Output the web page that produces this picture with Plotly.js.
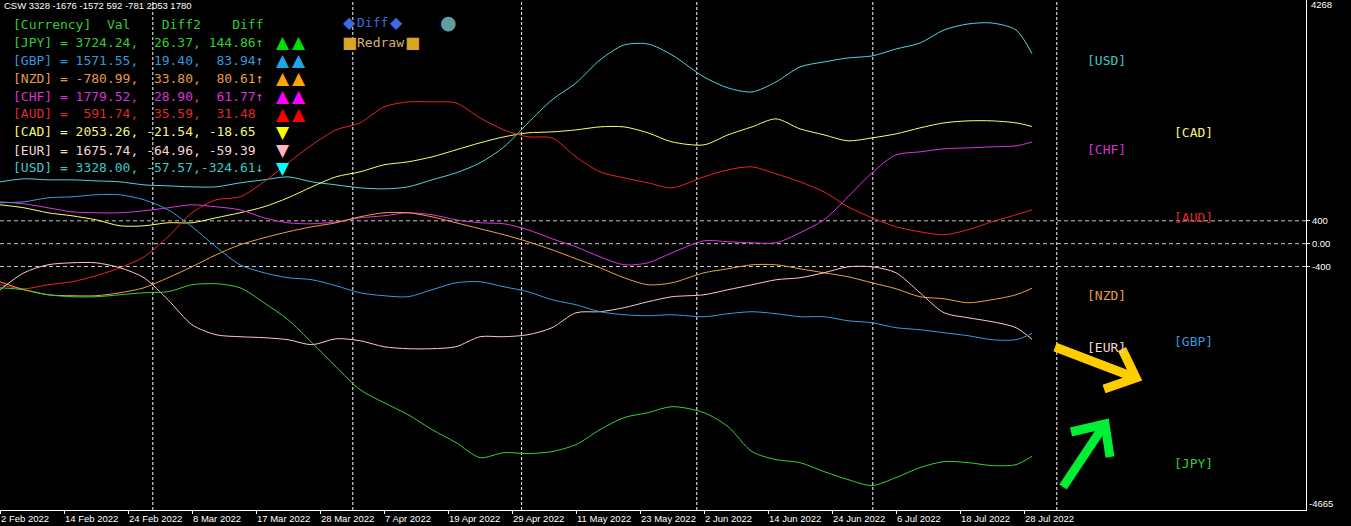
<!DOCTYPE html>
<html>
<head>
<meta charset="utf-8">
<script src="https://cdn.plot.ly/plotly-3.0.1.min.js"></script>
<style>
  html,body{margin:0;padding:0;background:#000;}
  #chart{width:1351px;height:526px;}
</style>
</head>
<body>
<div id="chart"></div>
<script>
// ---- data (bar index = trading day since 2 Feb 2022) ----
const bars = [0,3,6,9,12,15,18,21,24,27,30,33,36,39,42,45,48,51,54,57,60,63,66,69,72,75,78,81,84,
              88,91,94,97,100,103,106,109,112,115,118,121,124,127,129];

const USD = [1083,1136,1118,1118,1100,1083,1030,1013,995,995,1065,1118,1170,1083,1030,978,960,995,1118,1240,1415,1695,2115,2518,2815,3218,3480,3498,3305,
             2920,2728,2658,2833,3096,3183,3253,3288,3410,3515,3743,3848,3865,3743,3328];
const CAD = [681,628,541,488,418,313,313,366,366,453,541,646,803,996,1171,1258,1381,1433,1521,1643,1766,1871,1941,1958,1993,2046,2046,1941,1783,
             1731,1906,2046,2186,2011,1906,1801,1853,1923,2028,2116,2151,2151,2116,2053];
const AUD = [-720,-790,-720,-667,-562,-422,-230,121,541,768,821,1083,1416,1731,1993,2116,2396,2483,2483,2466,2203,1993,1871,1853,1521,1258,1153,1066,978,
             1171,1293,1346,1223,1083,908,646,453,296,208,156,243,383,506,592];
const CHF = [733,698,628,558,541,541,576,628,681,646,593,453,366,348,383,453,488,541,506,418,366,348,243,86,-55,-230,-370,-335,-160,
             51,33,16,16,191,418,821,1241,1556,1608,1661,1678,1696,1713,1780];
const NZD = [-667,-807,-895,-912,-912,-860,-772,-597,-405,-195,-20,103,208,296,366,471,541,541,471,366,261,156,33,-107,-265,-422,-597,-720,-685,
             -510,-440,-370,-370,-440,-510,-580,-685,-790,-930,-965,-1035,-982,-895,-781];
const EUR = [-807,-510,-370,-335,-335,-422,-597,-982,-1420,-1595,-1630,-1647,-1682,-1770,-1665,-1700,-1805,-1840,-1840,-1805,-1630,-1630,-1595,-1472,-1210,-1192,-1122,-1017,-930,
             -895,-807,-720,-632,-597,-510,-405,-405,-510,-860,-1210,-1297,-1367,-1472,-1676];
const GBP = [716,733,803,821,856,856,768,593,296,-55,-370,-510,-597,-632,-737,-860,-912,-930,-807,-685,-667,-755,-842,-982,-1070,-1192,-1245,-1262,-1245,
             -1280,-1227,-1192,-1227,-1280,-1280,-1350,-1385,-1472,-1507,-1560,-1612,-1682,-1682,-1572];
const JPY = [-772,-807,-895,-930,-930,-895,-860,-842,-720,-702,-772,-1035,-1332,-1735,-2155,-2557,-2785,-2995,-3257,-3485,-3747,-3660,-3677,-3642,-3520,-3257,-3047,-2960,-2855,
             -2960,-3205,-3642,-3782,-3835,-3992,-4132,-4237,-4097,-3922,-3817,-3835,-3887,-3870,-3724];

// legend table values
const currencies = ["JPY","GBP","NZD","CHF","AUD","CAD","EUR","USD"];
const vals  = [3724.24,1571.55,-780.99,1779.52,591.74,2053.26,1675.74,3328.00];
const diff2 = [26.37,19.40,33.80,28.90,35.59,-21.54,-64.96,-57.57];
const diff  = [144.86,83.94,80.61,61.77,31.48,-18.65,-59.39,-324.61];
const arrows = ["↑","↑","↑","↑","","","","↓"];
const marks  = ["▲▲","▲▲","▲▲","▲▲","▲▲","▼","▼","▼"];
const headerText = "CSW 3328 -1676 -1572 592 -781 2053 1780";

// x-axis tick labels (every 8 bars)
const tickIdx = [0,8,16,24,32,40,48,56,64,72,80,88,96,104,112,120,128];
const tickLabels = ["2 Feb 2022","14 Feb 2022","24 Feb 2022","8 Mar 2022","17 Mar 2022","28 Mar 2022","7 Apr 2022","19 Apr 2022","29 Apr 2022","11 May 2022","23 May 2022","2 Jun 2022","14 Jun 2022","24 Jun 2022","6 Jul 2022","18 Jul 2022","28 Jul 2022"];
const monthSep = [19.1,44.1,65.2,87.1,109.1,132.1];
const levels = [400,0,-400];
const yMin = -4665, yMax = 4268;

// ---- styling ----
const series = {USD,CAD,AUD,CHF,NZD,EUR,GBP,JPY};
const lineColor = {JPY:'#3ad13a',GBP:'#3a9be0',NZD:'#f0a040',CHF:'#e034e0',AUD:'#ee2222',CAD:'#ffff66',EUR:'#ffc8c8',USD:'#4fd8d8'};
const textColor = {JPY:'#33cc33',GBP:'#3399dd',NZD:'#e89a40',CHF:'#d633d6',AUD:'#dd2a2a',CAD:'#f5f57a',EUR:'#f5d5d5',USD:'#3cc8c8'};
const markColor = {JPY:'#00dd00',GBP:'#1ea7e8',NZD:'#ffa500',CHF:'#ff00ff',AUD:'#ff0000',CAD:'#ffff00',EUR:'#ffb6c1',USD:'#00ffff'};

const W = 1306, H = 510; // plot area in pixels
const MONO = '"DejaVu Sans Mono", monospace';
const SANS = '"Liberation Sans", Arial, sans-serif';
const SYM = '"DejaVu Sans", sans-serif';
const nb = s => s.replace(/ /g, '\u00A0');
const px = x => x / W, py = y => 1 - y / H;

const traces = Object.keys(series).map(k => ({
  x: bars, y: series[k], type: 'scatter', mode: 'lines', name: k,
  line: {color: lineColor[k], width: 1, shape: 'spline', smoothing: 0.8},
  hoverinfo: 'skip'
}));

const annotations = [];
function ann(text, x, y, color, size, font, anchor) {
  annotations.push({text: nb(text), xref: 'paper', yref: 'paper', x: px(x), y: py(y),
    xanchor: anchor || 'left', yanchor: 'middle', showarrow: false,
    font: {family: font || MONO, size: size || 13, color: color}, borderpad: 0});
}
ann(headerText, 3, 6, '#ffffff', 9.5, SANS);
ann('[Currency]  Val    Diff2    Diff', 12, 24, '#33cc33');
currencies.forEach((c, i) => {
  const row = '[' + c + '] = ' + vals[i].toFixed(2).padStart(7) + ', ' +
              diff2[i].toFixed(2).padStart(6) + ',' + diff[i].toFixed(2).padStart(7) + arrows[i];
  const y = 42 + i * 18;
  ann(row, 12, y, textColor[c]);
  [...marks[i]].forEach((m, j) => ann(m, 283 + j * 16, y, markColor[c], 17, SYM, 'center'));
});
// buttons
ann('◆', 349, 23, '#4169e1', 16, SYM, 'center');
ann('Diff', 356, 23, '#4169e1', 13);
ann('◆', 396, 23, '#4169e1', 16, SYM, 'center');
ann('●', 448, 22, '#5f9ea0', 19, SYM, 'center');
ann('■', 349, 42, '#daa520', 16, SYM, 'center');
ann('Redraw', 356, 42, '#d8b070', 13);
ann('■', 412, 42, '#daa520', 16, SYM, 'center');

// right-hand currency labels
const rightLab = [['USD',1086,60],['CHF',1086,149],['CAD',1173,133],['AUD',1173,217],
                  ['NZD',1086,295],['EUR',1086,347],['GBP',1173,341],['JPY',1173,463]];
rightLab.forEach(([c, x, y]) => ann('[' + c + ']', x, y, textColor[c], 13));

// range labels on the price scale
ann(String(yMax), 1310, 5, '#ffffff', 9.5, SANS);
ann(String(yMin), 1308, 503, '#ffffff', 9.5, SANS);

const shapes = [];
levels.forEach(v => shapes.push({type: 'line', xref: 'paper', yref: 'y', x0: 0, x1: 1, y0: v, y1: v,
  line: {color: '#c8c8c8', width: 1, dash: '4px,3px'}, layer: 'below'}));
monthSep.forEach(b => shapes.push({type: 'line', xref: 'x', yref: 'paper', x0: b, x1: b, y0: 0, y1: 1,
  line: {color: '#ffffff', width: 1, dash: '3px,2px'}, layer: 'below'}));

function P(x, y) { return px(x).toFixed(5) + ',' + py(y).toFixed(5); }
function arrow(shaft, tip, h1, h2, color) {
  shapes.push({type: 'path', xref: 'paper', yref: 'paper', path: 'M' + P(...shaft) + ' L' + P(...tip),
    line: {color, width: 9}});
  shapes.push({type: 'path', xref: 'paper', yref: 'paper', path: 'M' + P(...h1) + ' L' + P(...tip) + ' L' + P(...h2),
    line: {color, width: 9}});
}
arrow([1055, 347], [1136, 378], [1122, 349], [1104, 389], '#ffcc00');
arrow([1063, 487], [1105, 424], [1071, 432], [1110, 457], '#00ee33');

const layout = {
  width: 1351, height: 526,
  margin: {l: 0, r: 45, t: 0, b: 16, pad: 0},
  paper_bgcolor: '#000000', plot_bgcolor: '#000000',
  showlegend: false,
  xaxis: {range: [0, W / 8], tickvals: tickIdx, ticktext: tickLabels,
    ticklabelposition: 'outside right', ticks: 'outside', ticklen: 3, tickcolor: '#ffffff',
    showline: true, linecolor: '#ffffff', linewidth: 1, showgrid: false, zeroline: false,
    tickfont: {family: SANS, size: 9.5, color: '#ffffff'}, fixedrange: true},
  yaxis: {range: [yMin, yMax], side: 'right', tickvals: levels, ticktext: ['400','0.00','-400'],
    ticks: 'outside', ticklen: 3, tickcolor: '#ffffff',
    showline: true, linecolor: '#ffffff', linewidth: 1, showgrid: false, zeroline: false,
    tickfont: {family: SANS, size: 9.5, color: '#ffffff'}, fixedrange: true},
  annotations, shapes
};

Plotly.newPlot('chart', traces, layout, {staticPlot: true, displayModeBar: false});
</script>
</body>
</html>
